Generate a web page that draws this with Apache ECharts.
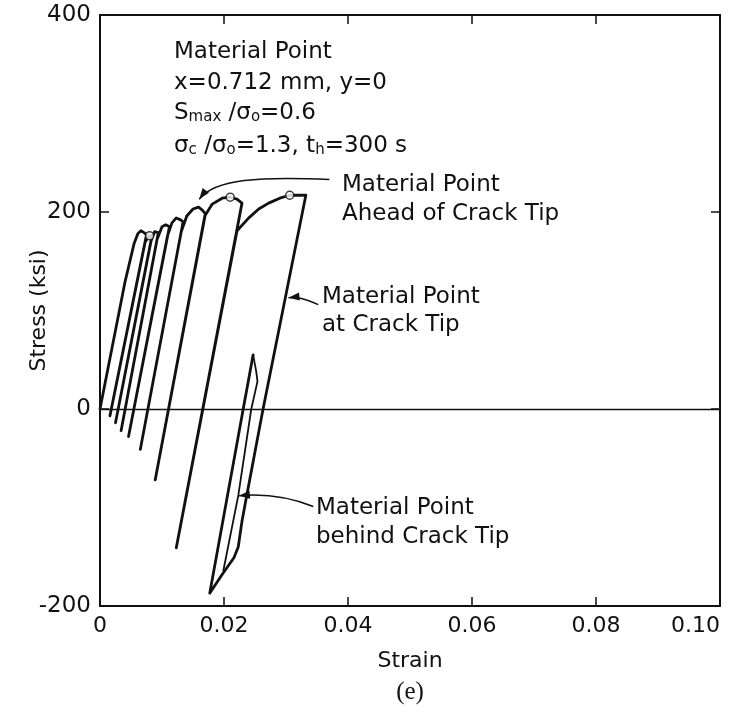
<!DOCTYPE html>
<html>
<head>
<meta charset="utf-8">
<script src="https://cdn.jsdelivr.net/npm/echarts@6/dist/echarts.min.js"></script>
<style>
  html, body { margin: 0; padding: 0; background: #fff; }
  #chart { width: 730px; height: 715px; }
</style>
</head>
<body>
<div id="chart"></div>
<script>
// axis ticks
var strainTicks = [0, 0.02, 0.04, 0.06, 0.08, 0.10];
var stressTicks = [-200, 0, 200, 400];

// material point: ahead of / at crack tip (stress-strain path)
var tipStrain = [0, 0.0040, 0.0055, 0.0061, 0.0066, 0.0071, 0.0075,
    0.0016, 0.0073, 0.0080, 0.0084,
    0.0025, 0.0082, 0.0088, 0.0094,
    0.0034, 0.0092, 0.0100, 0.0106, 0.0112,
    0.0046, 0.0109, 0.0116, 0.0123, 0.0130, 0.0134,
    0.0065, 0.0131, 0.0140, 0.0150, 0.0159, 0.0165, 0.0170,
    0.0089, 0.0169, 0.0174, 0.0181, 0.0197, 0.0210, 0.0221, 0.0229,
    0.0123, 0.0221, 0.0240, 0.0256, 0.0272, 0.0290, 0.0306, 0.0332,
    0.0263, 0.0236, 0.0229, 0.0223, 0.0216, 0.0197, 0.0177,
    0.0231, 0.0247];
var tipStress = [0, 128, 168, 178, 181, 179, 177,
    -7, 170, 176, 176,
    -14, 170, 180, 179,
    -22, 172, 185, 187, 185,
    -28, 176, 189, 194, 192, 190,
    -41, 180, 196, 203, 205, 202, 198,
    -72, 196, 201, 208, 214, 215, 213, 209,
    -141, 181, 194, 203, 209, 214, 217, 217,
    0, -90, -114, -140, -151, -168, -187,
    0, 55];

// material point behind crack tip (return branch of the small loop)
var behindStrain = [0.0247, 0.0252, 0.0254, 0.0244, 0.0223, 0.0199];
var behindStress = [55, 38, 28, 0, -88, -164];

// open circle markers on the curve
var markerStrain = [0.0080, 0.0210, 0.0306];
var markerStress = [176, 215, 217];

function pairs(xs, ys) {
    return xs.map(function (x, i) { return [x, ys[i]]; });
}

var chart = echarts.init(document.getElementById('chart'));
var font = 'DejaVu Sans';
var ink = '#111';
var txt = '23px ' + font;
var sub = { sub: { fontSize: 15, fontFamily: font, verticalAlign: 'bottom', lineHeight: 15 } };

function label(x, y, text, rich) {
    return {
        type: 'text', x: x, y: y,
        style: { text: text, font: txt, fill: ink, verticalAlign: 'middle', align: 'left', rich: rich }
    };
}

var axisCommon = {
    type: 'value',
    nameMoveOverlap: false,
    axisLine: { show: true, onZero: false, lineStyle: { color: ink, width: 2 } },
    axisTick: { inside: true, length: 9, lineStyle: { color: ink, width: 1.5 } },
    splitLine: { show: false }
};

var texts = [
    label(174, 52, 'Material Point'),
    label(174, 83, 'x=0.712 mm, y=0'),
    label(174, 113, 'S{sub|max} /σ{sub|o}=0.6', sub),
    label(174, 146, 'σ{sub|c} /σ{sub|o}=1.3, t{sub|h}=300 s', sub),
    label(342, 185, 'Material Point'),
    label(342, 214, 'Ahead of Crack Tip'),
    label(322, 297, 'Material Point'),
    label(322, 325, 'at Crack Tip'),
    label(316, 508, 'Material Point'),
    label(316, 537, 'behind Crack Tip'),
    { type: 'text', x: 410, y: 692, style: { text: '(e)', font: '25px "Liberation Serif"', fill: ink, align: 'center', verticalAlign: 'middle' } }
];

var option = {
    animation: false,
    backgroundColor: '#fff',
    grid: { left: 100, right: 10, top: 15, bottom: 109, outerBoundsMode: 'none' },
    xAxis: [echarts.util.merge({
        min: strainTicks[0],
        max: strainTicks[strainTicks.length - 1],
        interval: strainTicks[1] - strainTicks[0],
        position: 'bottom',
        name: 'Strain',
        nameLocation: 'middle',
        nameGap: 44,
        nameTextStyle: { fontFamily: font, fontSize: 22, color: ink },
        axisLabel: {
            fontFamily: font, fontSize: 22, color: ink, margin: 9,
            alignMaxLabel: 'right',
            formatter: function (v) { return v === 0 ? '0' : v.toFixed(2); }
        }
    }, axisCommon, true), echarts.util.merge({
        min: strainTicks[0],
        max: strainTicks[strainTicks.length - 1],
        interval: strainTicks[1] - strainTicks[0],
        position: 'top',
        axisLabel: { show: false }
    }, axisCommon, true)],
    yAxis: [echarts.util.merge({
        min: stressTicks[0],
        max: stressTicks[stressTicks.length - 1],
        interval: stressTicks[1] - stressTicks[0],
        position: 'left',
        name: 'Stress (ksi)',
        nameLocation: 'middle',
        nameGap: 50,
        nameRotate: 90,
        nameTextStyle: { fontFamily: font, fontSize: 22, color: ink },
        axisLabel: { fontFamily: font, fontSize: 23, color: ink, margin: 9 }
    }, axisCommon, true), echarts.util.merge({
        min: stressTicks[0],
        max: stressTicks[stressTicks.length - 1],
        interval: stressTicks[1] - stressTicks[0],
        position: 'right',
        axisLabel: { show: false }
    }, axisCommon, true)],
    series: [{
        name: 'tip',
        type: 'line',
        data: pairs(tipStrain, tipStress),
        showSymbol: false,
        symbol: 'none',
        lineStyle: { color: ink, width: 2.8, cap: 'round', join: 'round' },
        z: 3,
        markLine: {
            silent: true,
            symbol: ['none', 'none'],
            label: { show: false },
            lineStyle: { color: ink, width: 1.3, type: 'solid' },
            data: [{ yAxis: 0 }]
        }
    }, {
        name: 'behind',
        type: 'line',
        data: pairs(behindStrain, behindStress),
        showSymbol: false,
        symbol: 'none',
        lineStyle: { color: ink, width: 1.8, cap: 'round', join: 'round' },
        z: 3
    }, {
        name: 'markers',
        type: 'scatter',
        data: pairs(markerStrain, markerStress),
        symbol: 'circle',
        symbolSize: 8,
        itemStyle: { color: '#fff', borderColor: ink, borderWidth: 1.5 },
        z: 4
    }],
    graphic: texts
};

chart.setOption(option);

// leader arrows from the labels to the curve: start, two control points, tip (strain, stress)
var leaders = [
    [[0.0370, 233], [0.0260, 236], [0.0185, 234], [0.0160, 213]],
    [[0.0352, 106], [0.0330, 112], [0.0318, 114], [0.0304, 113]],
    [[0.0344, -99], [0.0300, -88], [0.0260, -86], [0.0224, -88]]
];

function toPx(p) { return chart.convertToPixel({ gridIndex: 0 }, p); }

var arrows = [];
leaders.forEach(function (l) {
    var a = toPx(l[0]), c1 = toPx(l[1]), c2 = toPx(l[2]), b = toPx(l[3]);
    arrows.push({
        type: 'bezierCurve', silent: true, z: 5,
        shape: { x1: a[0], y1: a[1], cpx1: c1[0], cpy1: c1[1], cpx2: c2[0], cpy2: c2[1], x2: b[0], y2: b[1] },
        style: { stroke: ink, lineWidth: 1.5, fill: null }
    });
    var dx = b[0] - c2[0], dy = b[1] - c2[1];
    var len = Math.sqrt(dx * dx + dy * dy) || 1;
    var ux = dx / len, uy = dy / len;
    var hl = 11, hw = 4;
    arrows.push({
        type: 'polygon', silent: true, z: 5,
        shape: { points: [
            [b[0], b[1]],
            [b[0] - ux * hl - uy * hw, b[1] - uy * hl + ux * hw],
            [b[0] - ux * hl + uy * hw, b[1] - uy * hl - ux * hw]
        ] },
        style: { fill: ink }
    });
});

chart.setOption({ graphic: texts.concat(arrows) });
</script>
</body>
</html>
